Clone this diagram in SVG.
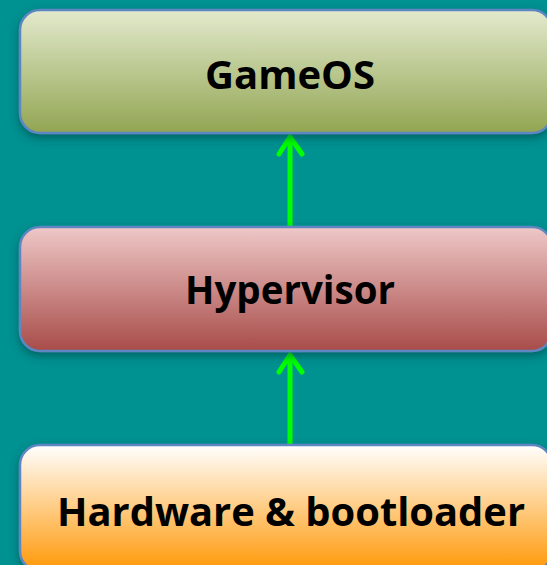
<svg xmlns="http://www.w3.org/2000/svg" width="547" height="565" viewBox="0 0 547 565">
<defs>
<linearGradient id="gGame" x1="0" y1="0" x2="0" y2="1">
<stop offset="0" stop-color="#e3eacd"/><stop offset="1" stop-color="#92a552"/>
</linearGradient>
<linearGradient id="gHyp" x1="0" y1="0" x2="0" y2="1">
<stop offset="0" stop-color="#eec8c7"/><stop offset="1" stop-color="#a84c49"/>
</linearGradient>
<linearGradient id="gHw" x1="0" y1="0" x2="0" y2="1">
<stop offset="0" stop-color="#ffffff"/><stop offset="1" stop-color="#ff9806"/>
</linearGradient>
<filter id="sh" x="-10%" y="-10%" width="120%" height="130%">
<feDropShadow dx="0" dy="4" stdDeviation="4" flood-color="#003c3c" flood-opacity="0.55"/>
</filter>
</defs>
<style>
.box{stroke:#5d86c2;stroke-width:2.5;filter:url(#sh)}
.lbl{font-family:"Open Sans","Liberation Sans",sans-serif;font-weight:bold;font-size:39px;fill:#000;text-anchor:middle}
.arr{stroke:#00ff00;stroke-width:5;stroke-linecap:round;stroke-linejoin:round;fill:none}
</style>
<rect width="547" height="565" fill="#009191"/>
<g id="connectors">
<path class="arr" d="M290 226 V137 M279 154 L290 137 L302 154"/>
<path class="arr" d="M290 444 V355 M279 372 L290 355 L302 372"/>
</g>
<g id="gameos">
<rect class="box" x="20" y="10" width="532" height="123" rx="20" fill="url(#gGame)"/>
<text class="lbl" x="290" y="89" textLength="170" lengthAdjust="spacingAndGlyphs">GameOS</text>
</g>
<g id="hypervisor">
<rect class="box" x="20" y="227" width="532" height="124" rx="20" fill="url(#gHyp)"/>
<text class="lbl" x="290" y="304" textLength="210" lengthAdjust="spacingAndGlyphs">Hypervisor</text>
</g>
<g id="hardware">
<rect class="box" x="20" y="445" width="532" height="126" rx="20" fill="url(#gHw)"/>
<text class="lbl" x="291" y="526" textLength="468" lengthAdjust="spacingAndGlyphs">Hardware &amp; bootloader</text>
</g>
</svg>
